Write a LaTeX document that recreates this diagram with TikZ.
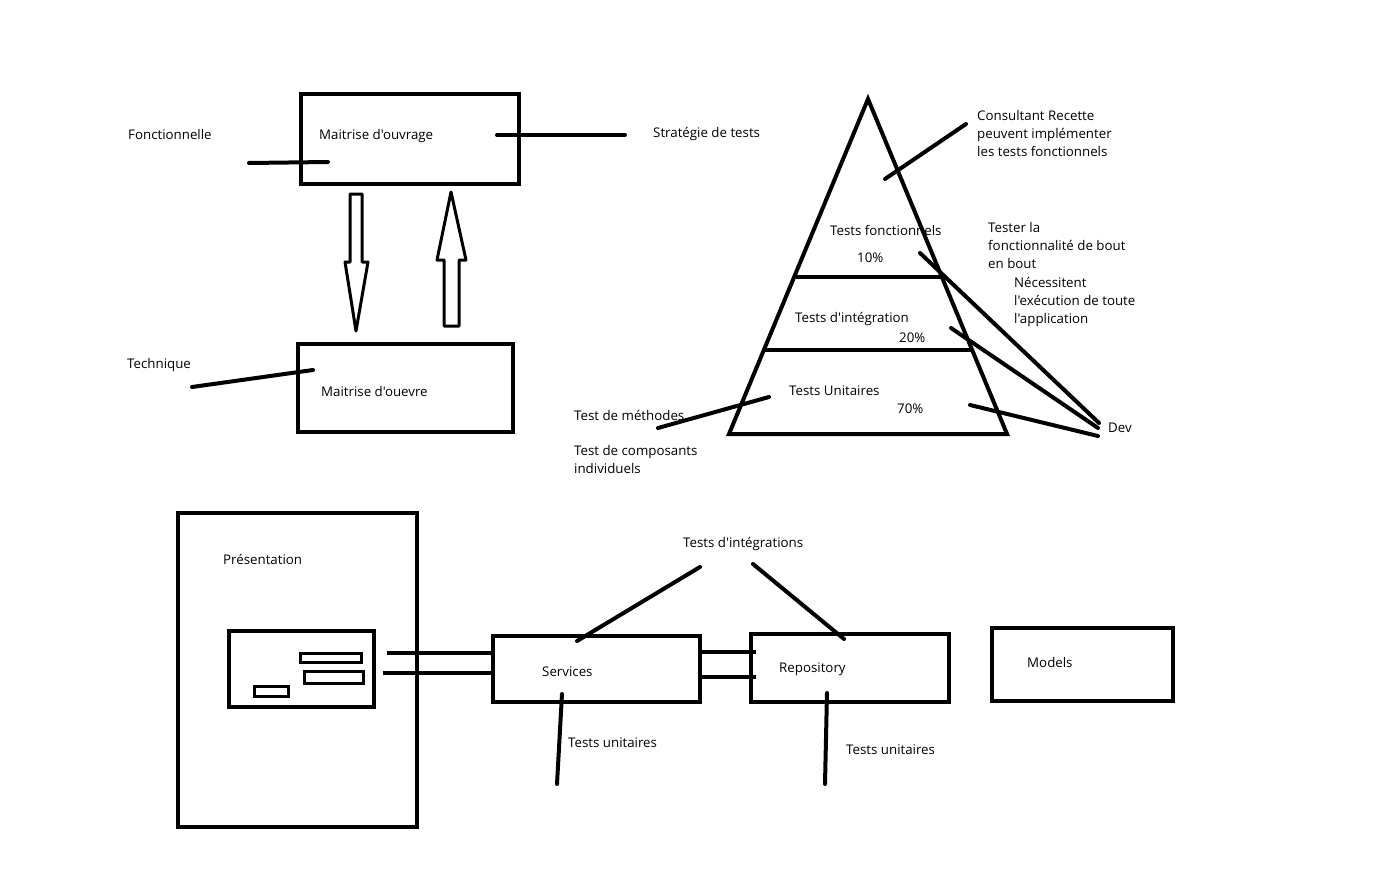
\documentclass[tikz,border=0pt]{standalone}
\usepackage{fontspec}
\setmainfont{Open Sans}[Ligatures=TeXOff]
\usepackage{tikz}

\tikzset{
	lbl/.style={anchor=west, inner sep=0pt, font=\fontsize{13.3}{18}\selectfont, align=left},
	boite/.style={line width=4pt},
	trait/.style={line width=4pt, line cap=round},
	fleche/.style={line width=3pt, line join=round},
}

\begin{document}
\begin{tikzpicture}[x=1pt, y=-1pt]
	\useasboundingbox (0,0) rectangle (1395,875);
	
	% maitrise d'ouvrage / d'oeuvre
	\draw[boite] (301,94) rectangle (519,184);
	\node[lbl] (moa) at (319,136) {Maitrise d'ouvrage};
	\node[lbl] (fonc) at (128,135) {Fonctionnelle};
	\coordinate (f1) at (249,163); \coordinate (f2) at (328,162);
	\draw[trait] (f1) -- (f2);
	\node[lbl] (strat) at (653,134) {Stratégie de tests};
	\coordinate (s1) at (497,135); \coordinate (s2) at (625,135);
	\draw[trait] (s1) -- (s2);
	
	\draw[fleche] (350,194) -- (362,194) -- (362,262) -- (368,262) -- (356,331)
		-- (345,262) -- (350,262) -- cycle;
	\draw[fleche] (444,326) -- (459,326) -- (459,260) -- (466,260) -- (451,192)
		-- (437,260) -- (444,260) -- cycle;
	
	\draw[boite] (298,344) rectangle (513,432);
	\node[lbl] (moe) at (321,392) {Maitrise d'ouevre};
	\node[lbl] (tech) at (127,365) {Technique};
	\coordinate (t1) at (192,387); \coordinate (t2) at (313,370);
	\draw[trait] (t1) -- (t2);
	
	% pyramide
	\coordinate (sommet) at (868,99);
	\coordinate (bg) at (729,434);
	\coordinate (bd) at (1007,434);
	\draw[boite, line join=miter] (sommet) -- (bd) -- (bg) -- cycle;
	\draw[boite] (796,277) -- (942,277);
	\draw[boite] (764,350) -- (972,350);
	\node[lbl] (fct) at (830,230) {Tests fonctionnels};
	\node[lbl] (p10) at (857,258) {10\%};
	\node[lbl] (integ) at (795,319) {Tests d'intégration};
	\node[lbl] (p20) at (899,338) {20\%};
	\node[lbl] (unit) at (789,391) {Tests Unitaires};
	\node[lbl] (p70) at (897,409) {70\%};
	
	\node[lbl] (consult) at (977,134) {Consultant Recette\\peuvent implémenter\\les tests fonctionnels};
	\coordinate (c1) at (885,179); \coordinate (c2) at (966,124);
	\draw[trait] (c1) -- (c2);
	\node[lbl] (bout) at (988,246) {Tester la\\fonctionnalité de bout\\en bout};
	\node[lbl] (appli) at (1014,302) {Nécessitent\\l'exécution de toute\\l'application};
	
	\node[lbl] (dev) at (1108,428) {Dev};
	\coordinate (d1) at (920,253); \coordinate (d2) at (951,328); \coordinate (d3) at (970,405);
	\draw[trait] (d1) -- (1099,423);
	\draw[trait] (d2) -- (1098,428);
	\draw[trait] (d3) -- (1098,436);
	
	\node[lbl] (meth) at (574,415) {Test de méthodes};
	\coordinate (m1) at (658,428); \coordinate (m2) at (769,397);
	\draw[trait] (m1) -- (m2);
	\node[lbl] (compo) at (574,460) {Test de composants\\individuels};
	
	% couches
	\draw[boite] (178,513) rectangle (417,827);
	\node[lbl] (pres) at (223,559) {Présentation};
	\draw[boite] (229,631) rectangle (374,707);
	\draw[line width=3pt] (300,653) rectangle (361,662);
	\draw[line width=3pt] (304,671) rectangle (363,683);
	\draw[line width=3pt] (254,686) rectangle (288,696);
	
	\draw[boite] (493,636) rectangle (700,702);
	\node[lbl] (serv) at (542,672) {Services};
	\draw[boite] (751,634) rectangle (949,702);
	\node[lbl] (repo) at (779,669) {Repository};
	\draw[boite] (992,628) rectangle (1173,701);
	\node[lbl] (models) at (1027,663) {Models};
	
	\draw[boite] (387,653) -- (492,653);
	\draw[boite] (383,673) -- (492,673);
	\draw[boite] (700,652) -- (756,652);
	\draw[boite] (700,677) -- (756,677);
	
	\node[lbl] (tinteg) at (683,544) {Tests d'intégrations};
	\coordinate (i1) at (700,567); \coordinate (i2) at (577,641);
	\coordinate (i3) at (753,564); \coordinate (i4) at (844,639);
	\draw[trait] (i1) -- (i2);
	\draw[trait] (i3) -- (i4);
	
	\node[lbl] (tu1) at (568,743) {Tests unitaires};
	\node[lbl] (tu2) at (846,750) {Tests unitaires};
	\coordinate (u1) at (562,694); \coordinate (u2) at (557,784);
	\coordinate (u3) at (827,693); \coordinate (u4) at (825,784);
	\draw[trait] (u1) -- (u2);
	\draw[trait] (u3) -- (u4);
\end{tikzpicture}
\end{document}
